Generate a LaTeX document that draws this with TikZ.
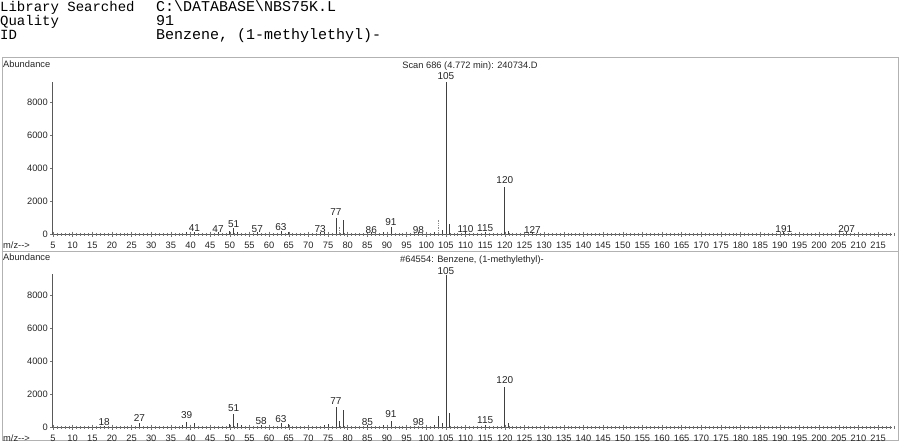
\documentclass[tikz,border=0pt]{standalone}
\usepackage{fontspec}
\setmainfont{Liberation Sans}
\newfontfamily\monofont{Liberation Mono}
\begin{document}
\begin{tikzpicture}[x=1pt,y=-1pt,
  font=\fontsize{9.3}{10}\selectfont,
  frame/.style={draw=black!30, line width=0.6pt},
  axisline/.style={draw=black!65, line width=0.6pt},
  tickmark/.style={draw=black!55, line width=0.4pt},
  peak/.style={draw=black!75, line width=0.7pt},
  faintpeak/.style={draw=black!45, line width=0.7pt, densely dotted},
  lbl/.style={inner sep=0pt, anchor=base, text=black!85},
  plbl/.style={inner sep=0pt, anchor=base, text=black!85, font=\fontsize{10}{10}\selectfont},
  ylbl/.style={inner sep=0pt, anchor=east, text=black!85},
  txt/.style={inner sep=0pt, anchor=base west, text=black!85},
  head/.style={inner sep=0pt, anchor=base west, text=black, font=\monofont\fontsize{14}{14}\selectfont},
  headv/.style={inner sep=0pt, anchor=base west, text=black, font=\monofont\fontsize{15}{14}\selectfont}]
\useasboundingbox (0,0) rectangle (900,447);
\fill[white] (0,0) rectangle (900,447);

% header
\node[head] (k1) at (0,11.5) {Library Searched};
\node[head] (k2) at (0,25.5) {Quality};
\node[head] (k3) at (0,39.5) {ID};
\node[headv] (v1) at (156,11.5) {C:\textbackslash DATABASE\textbackslash NBS75K.L};
\node[headv] (v2) at (156,25.5) {91};
\node[headv] (v3) at (156,39.5) {Benzene, (1-methylethyl)-};

% frames
\draw[frame] (2,57) rectangle (898,251);
\draw[frame] (2,251) rectangle (898,440);

% ================= top panel =================
\node[txt] (ab1) at (3,67.5) {Abundance};
\node[lbl] (scan) at (470,68.5) {Scan 686 (4.772 min): 240734.D};
\draw[axisline] (52,82) -- (52,234);
\foreach \v/\y in {0/234,2000/201,4000/168,6000/135,8000/102}{
  \draw[tickmark] (50,\y) -- (52,\y);
  \node[ylbl] (ty\v) at (48,\y) {\v};
}
\draw[axisline] (52,234) -- (892,234);
\foreach \m in {5,...,219}{
  \draw[tickmark] ({53+(\m-5)*3.929},232.8) -- ++(0,2.7);
}
\foreach \m in {5,10,...,215}{
  \draw[tickmark] ({53+(\m-5)*3.929},231.5) -- ++(0,5);
  \node[lbl] (tx\m) at ({53+(\m-5)*3.929},248.3) {\m};
}
\node[txt] (mz1) at (3,248.3) {m/z-{}->};
% peaks
\foreach \m/\h in {105/152,120/47,77/16,79/14,91/7,106/10,104/4,51/6,50/3,52/2,121/3,63/3,115/2,
  41/2,47/2,57/2,73/2,86/2,98/2,110/2,127/2,191/2,207/2,39/2,65/2,74/2,89/2,102/2}{
  \draw[peak] ({53+(\m-5)*3.929},234) -- ++(0,-\h);
}
\foreach \m/\h in {78/7,103/14}{
  \draw[faintpeak] ({53+(\m-5)*3.929},234) -- ++(0,-\h);
}
\foreach \m/\b in {105/79.5,120/183.5,77/215,91/225.7,51/227.7,63/230,41/231.7,47/232,57/232.5,
  73/232.5,86/233,98/233,110/232,115/231.7,127/233,191/232.7,207/232.5}{
  \node[plbl] (pt\m) at ({53+(\m-5)*3.929},\b) {\m};
}

% ================= bottom panel =================
\node[txt] (ab2) at (3,260.5) {Abundance};
\node[lbl] (lib) at (472,262.3) {\#64554: Benzene, (1-methylethyl)-};
\draw[axisline] (52,274) -- (52,427);
\foreach \v/\y in {0/427,2000/394,4000/361,6000/328,8000/295}{
  \draw[tickmark] (50,\y) -- (52,\y);
  \node[ylbl] (by\v) at (48,\y) {\v};
}
\draw[axisline] (52,427) -- (892,427);
\foreach \m in {5,...,219}{
  \draw[tickmark] ({53+(\m-5)*3.929},425.8) -- ++(0,2.7);
}
\foreach \m in {5,10,...,215}{
  \draw[tickmark] ({53+(\m-5)*3.929},424.5) -- ++(0,5);
  \node[lbl] (bx\m) at ({53+(\m-5)*3.929},441.3) {\m};
}
\node[txt] (mz2) at (3,441.3) {m/z-{}->};
% peaks
\foreach \m/\h in {105/152,120/40,77/20,79/17,106/14,104/4,102/2,91/6,121/4,51/13,50/3,52/4,53/2,
  39/5,38/2,41/4,27/4,63/4,65/3,18/1,58/2,74/2,75/3,85/2,89/2,115/2}{
  \draw[peak] ({53+(\m-5)*3.929},427) -- ++(0,-\h);
}
\foreach \m/\h in {78/6,103/11}{
  \draw[peak] ({53+(\m-5)*3.929},427) -- ++(0,-\h);
}
\foreach \m/\b in {105/274,120/383.5,77/404,91/417.3,85/425.3,98/425.3,115/423.3,18/425,
  27/421.7,39/418.3,51/411.7,58/424,63/422.3}{
  \node[plbl] (pb\m) at ({53+(\m-5)*3.929},\b) {\m};
}
\end{tikzpicture}
\end{document}
